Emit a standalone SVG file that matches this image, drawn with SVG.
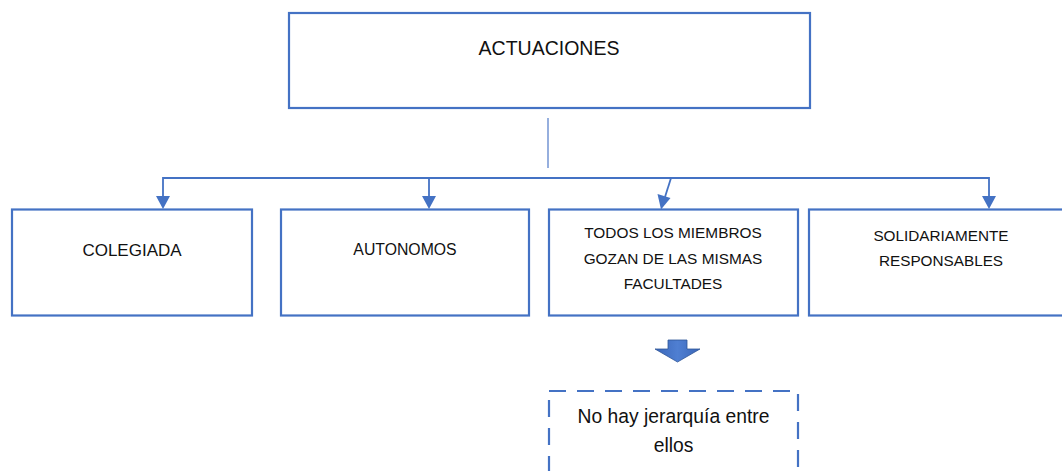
<svg xmlns="http://www.w3.org/2000/svg" width="1062" height="471" viewBox="0 0 1062 471">
  <defs>
    <style>
      .box { fill: #ffffff; stroke: #4472C4; stroke-width: 2.2; }
      .dash { fill: #ffffff; stroke: #4472C4; stroke-width: 2.2; stroke-dasharray: 17 11; }
      .conn { fill: none; stroke: #4472C4; stroke-width: 1.8; }
      .stem { fill: none; stroke: #7C9BD6; stroke-width: 1.6; }
      .t { font-family: "Liberation Sans", Arial, sans-serif; fill: #111111; text-anchor: middle; }
    </style>
    <marker id="ah" viewBox="0 0 14 13" refX="7" refY="13" markerWidth="14" markerHeight="13" markerUnits="userSpaceOnUse" orient="auto-start-reverse">
      <path d="M0,0 L14,0 L7,13 Z" fill="#4472C4" transform="rotate(0)"/>
    </marker>
    <linearGradient id="bg" x1="0" y1="0" x2="1" y2="0">
      <stop offset="0" stop-color="#3A66B8"/>
      <stop offset="0.5" stop-color="#4F7FD2"/>
      <stop offset="1" stop-color="#3A66B8"/>
    </linearGradient>
  </defs>

  <g id="connectors">
    <line class="stem" x1="548" y1="118" x2="548" y2="168"/>
    <polyline class="conn" points="163,196 163,178 989,178 989,196"/>
    <line class="conn" x1="429" y1="178" x2="429" y2="196"/>
    <line class="conn" x1="671" y1="178" x2="665" y2="197"/>
    <path d="M156,196 L170,196 L163,209 Z" fill="#4472C4"/>
    <path d="M422,196 L436,196 L429,209 Z" fill="#4472C4"/>
    <path d="M982,196 L996,196 L989,209 Z" fill="#4472C4"/>
    <path d="M657.5,194 L670.5,198 L661,209.5 Z" fill="#4472C4"/>
    <path d="M668,340 L687,340 L687,349 L700,349 L677.5,362 L655,349 L668,349 Z" fill="url(#bg)" stroke="#2F5597" stroke-width="0.8"/>
  </g>

  <g id="node-actuaciones">
    <rect class="box" x="289" y="13" width="521" height="95"/>
    <text class="t" x="549" y="55" font-size="19.5">ACTUACIONES</text>
  </g>

  <g id="node-colegiada">
    <rect class="box" x="12" y="209.5" width="240" height="106"/>
    <text class="t" x="132" y="256" font-size="17">COLEGIADA</text>
  </g>

  <g id="node-autonomos">
    <rect class="box" x="281" y="209.5" width="248" height="106"/>
    <text class="t" x="405" y="255" font-size="15.8">AUTONOMOS</text>
  </g>

  <g id="node-todos">
    <rect class="box" x="549" y="209.5" width="249" height="106"/>
    <text class="t" x="673" y="238" font-size="15.4">TODOS LOS MIEMBROS</text>
    <text class="t" x="673" y="263.5" font-size="15.4">GOZAN DE LAS MISMAS</text>
    <text class="t" x="673" y="289" font-size="15.4">FACULTADES</text>
  </g>

  <g id="node-solidariamente">
    <rect class="box" x="809" y="209.5" width="264" height="106"/>
    <text class="t" x="941" y="241" font-size="15.3">SOLIDARIAMENTE</text>
    <text class="t" x="941" y="266" font-size="15.3">RESPONSABLES</text>
  </g>

  <g id="node-jerarquia">
    <rect class="dash" x="549" y="391" width="249" height="100"/>
    <text class="t" x="673.5" y="423" font-size="19.3">No hay jerarquía entre</text>
    <text class="t" x="673.5" y="452" font-size="19.3">ellos</text>
  </g>
</svg>
